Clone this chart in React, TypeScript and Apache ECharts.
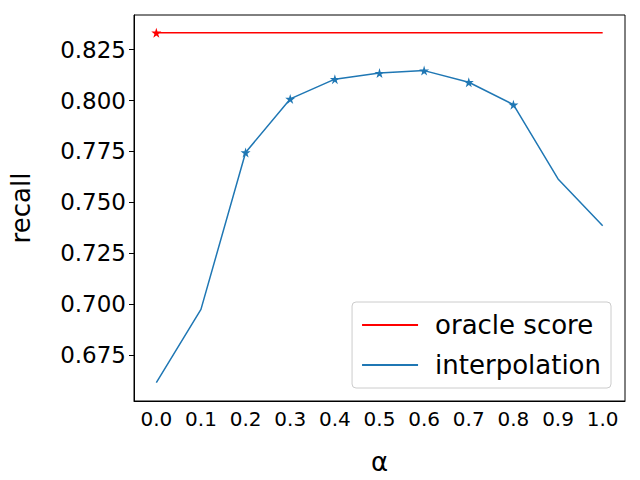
import React, { useEffect, useRef } from 'react';
import * as echarts from 'echarts';

const alphas = ['0.0', '0.1', '0.2', '0.3', '0.4', '0.5', '0.6', '0.7', '0.8', '0.9', '1.0'];
const interpolation = [0.6615, 0.6975, 0.7745, 0.8008, 0.8105, 0.8135, 0.8147, 0.809, 0.798, 0.7615, 0.7385];
const oracle = [0.8333, 0.8333, 0.8333, 0.8333, 0.8333, 0.8333, 0.8333, 0.8333, 0.8333, 0.8333, 0.8333];
const interpStars = [2, 3, 4, 5, 6, 7, 8];
const oracleStars = [0];
const yTicks = [0.675, 0.7, 0.725, 0.75, 0.775, 0.8, 0.825];

const STAR = 'path://M50,0 L61,35 L98,35 L68,57 L79,91 L50,70 L21,91 L32,57 L2,35 L39,35 Z';
const FONT = 'DejaVu Sans';

const App: React.FC = () => {
  const chartRef = useRef<HTMLDivElement>(null);

  useEffect(() => {
    if (!chartRef.current) return;
    const chart = echarts.init(chartRef.current, undefined, { renderer: 'svg' });

    const option: echarts.EChartsOption = {
      animation: false,
      textStyle: { fontFamily: FONT },
      grid: {
        left: 130, right: 15, top: 15, bottom: 78,
        show: true, borderColor: '#000', borderWidth: 1
      },
      legend: {
        orient: 'vertical',
        right: 29, bottom: 92,
        itemWidth: 56, itemHeight: 10, itemGap: 14,
        padding: [10, 10, 10, 10],
        borderColor: '#ccc', borderWidth: 1, borderRadius: 4,
        icon: 'path://M0,4 L56,4 L56,6 L0,6 Z',
        textStyle: { fontSize: 26, color: '#000', fontFamily: FONT, padding: [0, 0, 0, 12] },
        data: ['oracle score', 'interpolation']
      },
      xAxis: {
        type: 'category',
        data: alphas,
        boundaryGap: true,
        name: 'α',
        nameLocation: 'middle',
        nameGap: 48,
        nameTextStyle: { fontSize: 26, color: '#000' },
        axisLine: { lineStyle: { color: '#000' } },
        axisTick: { alignWithLabel: true, length: 5, lineStyle: { color: '#000' } },
        axisLabel: { fontSize: 20, color: '#000', margin: 8 },
        splitLine: { show: false }
      },
      yAxis: {
        type: 'value',
        min: 0.6525,
        max: 0.842,
        name: 'recall',
        nameLocation: 'middle',
        nameGap: 100,
        nameTextStyle: { fontSize: 26, color: '#000' },
        axisLine: { show: true, lineStyle: { color: '#000' } },
        axisTick: { show: true, length: 5, customValues: yTicks, lineStyle: { color: '#000' } },
        axisLabel: {
          fontSize: 23, color: '#000', margin: 8,
          customValues: yTicks,
          formatter: (v: number) => v.toFixed(3)
        },
        splitLine: { show: false }
      },
      series: [
        {
          name: 'oracle score',
          type: 'line',
          data: oracle,
          symbol: STAR,
          symbolSize: (_v: unknown, p: any) => (oracleStars.includes(p.dataIndex) ? 10 : 0),
          showAllSymbol: true,
          lineStyle: { color: '#ff0000', width: 1.5 },
          itemStyle: { color: '#ff0000' }
        },
        {
          name: 'interpolation',
          type: 'line',
          data: interpolation,
          symbol: STAR,
          symbolSize: (_v: unknown, p: any) => (interpStars.includes(p.dataIndex) ? 10 : 0),
          showAllSymbol: true,
          lineStyle: { color: '#1f77b4', width: 1.5 },
          itemStyle: { color: '#1f77b4' }
        }
      ]
    };

    chart.setOption(option);
    return () => chart.dispose();
  }, []);

  return <div ref={chartRef} style={{ width: 640, height: 480, margin: -8 }} />;
};

export default App;
